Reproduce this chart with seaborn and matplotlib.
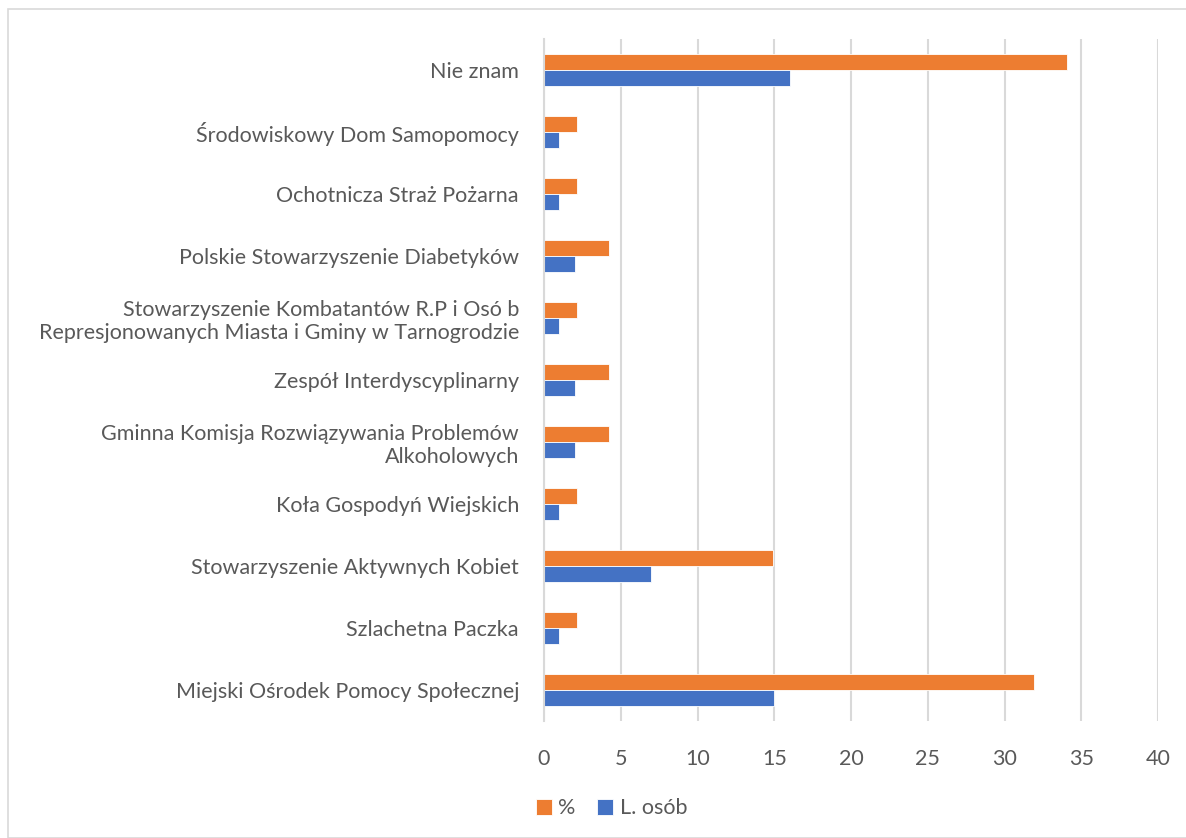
import pandas as pd
import matplotlib.pyplot as plt
import seaborn as sns
from matplotlib.patches import Rectangle

# Categories top to bottom
categories = [
    "Nie znam",
    "Środowiskowy Dom Samopomocy",
    "Ochotnicza Straż Pożarna",
    "Polskie Stowarzyszenie Diabetyków",
    "Stowarzyszenie Kombatantów R.P i Osó b\nRepresjonowanych Miasta i Gminy w Tarnogrodzie",
    "Zespół Interdyscyplinarny",
    "Gminna Komisja Rozwiązywania Problemów\nAlkoholowych",
    "Koła Gospodyń Wiejskich",
    "Stowarzyszenie Aktywnych Kobiet",
    "Szlachetna Paczka",
    "Miejski Ośrodek Pomocy Społecznej",
]
pct = [34.04, 2.13, 2.13, 4.26, 2.13, 4.26, 4.26, 2.13, 14.89, 2.13, 31.91]
osob = [16, 1, 1, 2, 1, 2, 2, 1, 7, 1, 15]

series_names = ["%", "L. osób"]
colors = ["#ED7D31", "#4472C4"]

df = pd.DataFrame({"kategoria": categories, "%": pct, "L. osób": osob})
df_long = df.melt(id_vars="kategoria", var_name="seria", value_name="wartosc")

sns.set_style("white")
plt.rcParams["font.family"] = ["Lato", "DejaVu Sans"]
text_color = "#595959"

fig = plt.figure(figsize=(11.86, 8.38), dpi=100)
ax = fig.add_axes([544 / 1186, 1 - 721 / 838, 614 / 1186, 682 / 838])

sns.barplot(
    data=df_long, y="kategoria", x="wartosc", hue="seria",
    order=categories, hue_order=series_names, palette=colors,
    orient="h", width=0.52, saturation=1, ax=ax, legend=True,
    edgecolor="white", linewidth=0.6,
)

ax.set_xlim(0, 40)
ax.set_xticks(range(0, 41, 5))
ax.set_xlabel("")
ax.set_ylabel("")
ax.grid(axis="x", color="#D9D9D9", linewidth=1.5)
ax.set_axisbelow(True)
for side in ["top", "right", "bottom"]:
    ax.spines[side].set_visible(False)
ax.spines["left"].set_color("#D9D9D9")
ax.spines["left"].set_linewidth(1.5)
ax.tick_params(axis="both", length=0, colors=text_color, labelsize=15.5)
ax.tick_params(axis="x", pad=20)
ax.tick_params(axis="y", pad=18)
for lbl in ax.get_yticklabels():
    lbl.set_multialignment("right")

ax.legend(
    loc="upper left", bbox_to_anchor=(-0.045, -0.085), ncol=2, frameon=False,
    fontsize=15.5, labelcolor=text_color, handlelength=0.75, handleheight=0.75,
    handletextpad=0.3, columnspacing=1.0,
)

fig.patches.append(Rectangle((8 / 1186, 0), 1, 1 - 9 / 838, transform=fig.transFigure,
                             fill=False, edgecolor="#D9D9D9", linewidth=1.2))

plt.savefig("out.png", dpi=100)
